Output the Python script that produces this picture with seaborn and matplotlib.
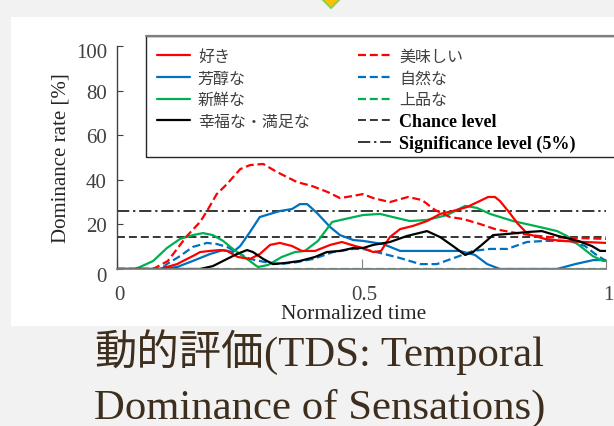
import matplotlib
matplotlib.use("Agg")
import matplotlib.pyplot as plt
import seaborn as sns
from matplotlib.lines import Line2D
from matplotlib.patches import Rectangle, Polygon
from matplotlib.font_manager import FontProperties
from matplotlib.transforms import ScaledTranslation

# ---------------- data ----------------
suki_x = [0, 0.078, 0.088, 0.102, 0.123, 0.135, 0.155, 0.170, 0.190, 0.211, 0.225, 0.247, 0.272,
          0.292, 0.313, 0.333, 0.358, 0.378, 0.405, 0.436, 0.460, 0.487, 0.503, 0.524, 0.540,
          0.558, 0.579, 0.605, 0.634, 0.661, 0.687, 0.716, 0.742, 0.759, 0.773, 0.783, 0.800,
          0.820, 0.840, 0.875, 0.910, 0.957, 1.0]
suki_y = [0, 0, 0, 0.9, 2.2, 3.6, 5.8, 7.6, 8.1, 8.5, 8.1, 5.4, 4.5, 6.7, 10.8, 11.7, 10.3, 8.1,
          8.1, 10.8, 12.1, 10.3, 9.4, 7.6, 8.1, 14.3, 17.9, 19.3, 21.5, 24.7, 26.0, 27.8, 30.5,
          32.3, 32.3, 30.5, 26.0, 20.2, 15.7, 13.5, 12.6, 12.1, 11.7]

oishii_x = [0, 0.074, 0.104, 0.143, 0.170, 0.184, 0.204, 0.225, 0.252, 0.272, 0.299, 0.327,
            0.368, 0.399, 0.431, 0.456, 0.481, 0.503, 0.524, 0.558, 0.595, 0.624, 0.650, 0.681,
            0.708, 0.742, 0.773, 0.804, 0.845, 0.885, 0.937, 1.0]
oishii_y = [0, 0, 3.6, 14.8, 21.1, 26.0, 33.6, 38.1, 44.8, 46.6, 47.1, 43.5, 39.0, 37.2, 34.5,
            31.8, 32.7, 33.6, 31.8, 30.0, 32.3, 30.9, 26.5, 23.3, 22.4, 20.2, 17.9, 16.6, 15.2,
            14.3, 13.9, 13.5]

hojun_x = [0, 0.088, 0.123, 0.155, 0.190, 0.217, 0.237, 0.252, 0.272, 0.292, 0.313, 0.333,
           0.358, 0.374, 0.389, 0.409, 0.436, 0.456, 0.483, 0.503, 0.544, 0.579, 0.640, 0.701,
           0.732, 0.757, 0.783, 0.900, 0.937, 0.974, 1.0]
hojun_y = [0, 0, 0.9, 3.6, 6.7, 8.5, 7.6, 10.3, 16.6, 23.3, 24.7, 26.0, 26.9, 29.1, 29.1, 25.1,
           18.8, 15.2, 13.0, 12.6, 11.2, 8.1, 8.1, 8.1, 6.3, 2.2, 0, 0, 2.2, 4.0, 4.0]

shizen_x = [0, 0.090, 0.102, 0.129, 0.155, 0.184, 0.204, 0.225, 0.252, 0.272, 0.303, 0.333,
            0.368, 0.401, 0.442, 0.483, 0.503, 0.538, 0.579, 0.620, 0.654, 0.695, 0.728, 0.763,
            0.798, 0.838, 0.875, 0.926, 0.957, 0.978, 1.0]
shizen_y = [0, 0, 2.2, 5.8, 9.9, 11.7, 11.2, 9.9, 6.7, 4.5, 3.1, 2.2, 3.1, 4.5, 7.6, 9.0, 9.0,
            7.2, 4.9, 2.2, 2.2, 5.4, 8.1, 9.0, 9.0, 12.1, 12.6, 12.6, 10.3, 6.7, 3.6]

shinsen_x = [0, 0.037, 0.047, 0.074, 0.102, 0.129, 0.155, 0.176, 0.196, 0.217, 0.237, 0.266,
             0.288, 0.309, 0.337, 0.364, 0.384, 0.411, 0.440, 0.466, 0.503, 0.538, 0.564, 0.599,
             0.634, 0.675, 0.712, 0.736, 0.763, 0.810, 0.865, 0.900, 0.920, 0.947, 0.973, 0.994, 1.0]
shinsen_y = [0, 0, 0.9, 3.6, 9.4, 13.5, 15.2, 16.1, 15.2, 12.6, 9.0, 4.5, 0.9, 1.8, 5.4, 7.6,
             8.1, 12.6, 21.1, 22.4, 24.2, 24.7, 23.3, 21.5, 22.0, 24.2, 28.3, 27.4, 24.7, 21.5,
             18.8, 17.0, 14.8, 10.3, 5.8, 3.6, 3.6]

johin_x = [0, 1.0]
johin_y = [0, 0]

kofuku_x = [0, 0.170, 0.196, 0.225, 0.245, 0.266, 0.278, 0.299, 0.319, 0.344, 0.374, 0.405,
            0.429, 0.456, 0.483, 0.503, 0.524, 0.558, 0.593, 0.634, 0.661, 0.687, 0.712, 0.728,
            0.748, 0.769, 0.798, 0.840, 0.869, 0.902, 0.943, 0.971, 0.988, 1.0]
kofuku_y = [0, 0, 1.3, 4.5, 6.7, 8.5, 7.6, 4.5, 2.2, 2.7, 3.6, 5.4, 7.6, 8.1, 9.4, 9.4, 10.8,
            12.1, 14.8, 17.0, 14.3, 10.3, 6.3, 7.6, 11.2, 15.2, 15.7, 16.6, 17.0, 14.8, 12.6,
            10.3, 8.1, 8.1]

chance_level = 14.3
significance_level = 26.1

x_ticks = [0, 0.5, 1]
x_tick_labels = ["0", "0.5", "1"]
y_ticks = [0, 20, 40, 60, 80, 100]
y_tick_labels = ["0", "20", "40", "60", "80", "100"]

# ---------------- figure ----------------
W, H = 614, 427
def fx(x):
    return x / W
def fy(y):
    return 1 - y / H

sns.set_theme(style="ticks")
plt.rcParams["font.family"] = ["Liberation Serif", "Noto Sans CJK JP", "DejaVu Sans"]

fig = plt.figure(figsize=(W / 100, H / 100), dpi=100, facecolor="#f2f2f2")
fig.patches.append(Rectangle((fx(11), fy(327)), 1.0, fy(18) - fy(327), transform=fig.transFigure,
                             facecolor="white", edgecolor="none", zorder=-5))
fig.patches.append(Polygon([(fx(322), fy(0)), (fx(331), fy(-9)), (fx(340), fy(0)), (fx(331), fy(9))],
                           closed=True, transform=fig.transFigure, facecolor="#ffc000",
                           edgecolor="#92d050", lw=1.5, zorder=2))

ax = fig.add_axes([fx(117), fy(270), (606 - 117) / W, (270 - 47) / H])
ax.set_facecolor("none")

RED, BLUE, GREEN, BLACK = "#ff0000", "#0070c0", "#00b050", "#000000"
DASH = (0, (3.6, 1.7))
series = [
    ("上品な", johin_x, johin_y, GREEN, DASH),
    ("自然な", shizen_x, shizen_y, BLUE, DASH),
    ("芳醇な", hojun_x, hojun_y, BLUE, "-"),
    ("新鮮な", shinsen_x, shinsen_y, GREEN, "-"),
    ("好き", suki_x, suki_y, RED, "-"),
    ("美味しい", oishii_x, oishii_y, RED, DASH),
    ("幸福な・満足な", kofuku_x, kofuku_y, BLACK, "-"),
]
handles = {}
for name, xs, ys, col, ls in series:
    sns.lineplot(x=xs, y=ys, ax=ax, color=col, linestyle=ls, linewidth=1.6,
                 estimator=None, sort=False, errorbar=None)
    handles[name] = ax.lines[-1]
handles["上品な"].set_zorder(1.5)

handles["Chance level"] = ax.axhline(chance_level, color="black", lw=1.1,
                                     linestyle=(0, (5.2, 2.6)), zorder=1.8)
handles["Significance level (5%)"] = ax.axhline(significance_level, color="black", lw=1.1,
                                                linestyle=(0, (8, 2.5, 1.5, 2.5)), zorder=1.8)

ax.set_xlim(0, 1)
ax.set_ylim(0, 100)
sns.despine(ax=ax)
ax.spines["left"].set_color("#404040")
ax.spines["left"].set_linewidth(1.0)
ax.spines["bottom"].set_color("#808080")
ax.spines["bottom"].set_linewidth(1.3)
ax.spines["bottom"].set_zorder(3)

ax.set_xticks(x_ticks, x_tick_labels)
ax.set_yticks(y_ticks, y_tick_labels)
ax.tick_params(axis="y", direction="in", length=4.3, width=0.8, color="#404040", pad=7.2,
               labelsize=15, labelcolor="#404040", left=True)
ax.tick_params(axis="x", direction="in", length=7.5, width=0.8, color="#808080", pad=11.5,
               labelsize=15, labelcolor="#404040", bottom=True)
for lab in ax.get_xticklabels():
    lab.set_transform(lab.get_transform() + ScaledTranslation(0.025, 0, fig.dpi_scale_trans))
ylabs = ax.get_yticklabels()
for lab in (ylabs[0], ylabs[-1]):
    lab.set_transform(lab.get_transform() + ScaledTranslation(0, -0.045, fig.dpi_scale_trans))
ax.set_ylabel("Dominance rate [%]", fontsize=15, color="#262626", labelpad=4)
ax.set_xlabel("Normalized time", fontsize=15.5, color="#262626", labelpad=0, x=0.483)

# ---------------- legend ----------------
fig.patches.append(Rectangle((fx(146), fy(158)), 1.0, fy(37) - fy(158), transform=fig.transFigure,
                             facecolor="none", edgecolor="#262626", lw=1.0, zorder=3))
fig.lines.append(Line2D([fx(146), 1.0], [fy(37), fy(37)], transform=fig.transFigure,
                        color="#808080", lw=1.6, zorder=4))
blank = Line2D([], [], color="none")
order = ["好き", "芳醇な", "新鮮な", "幸福な・満足な", None,
         "美味しい", "自然な", "上品な", "Chance level", "Significance level (5%)"]
hs = [handles[k] if k else blank for k in order]
labels = [k if k else "" for k in order]
cjk = FontProperties(family=["Noto Sans CJK JP"], size=11.5)
leg = ax.legend(hs, labels, ncol=2, loc="upper left", bbox_to_anchor=(fx(157), fy(49)),
                bbox_transform=fig.transFigure, frameon=False, borderpad=0, borderaxespad=0,
                handlelength=2.06, handletextpad=0.5, columnspacing=3.05, labelspacing=0.29,
                prop=cjk)
for t in leg.get_texts():
    t.set_color("#404040")
for t in leg.get_texts()[-2:]:
    t.set_fontproperties(FontProperties(family=["Liberation Serif"], weight="bold", size=13))
    t.set_color("black")

# ---------------- caption ----------------
CAP = "#3d2e1e"
t1 = fig.text(fx(94), fy(366), "動的評価", fontfamily=["Noto Sans CJK JP"], fontsize=30.5,
              color=CAP, ha="left", va="baseline")
fig.canvas.draw()
bb = t1.get_window_extent()
fig.text(bb.x1 / W, fy(366), "(TDS: Temporal", fontfamily=["Liberation Serif"], fontsize=30.8,
         color=CAP, ha="left", va="baseline")
fig.text(fx(94), fy(419), "Dominance of Sensations)", fontfamily=["Liberation Serif"],
         fontsize=30.8, color=CAP, ha="left", va="baseline")

fig.savefig("out.png", dpi=100, facecolor=fig.get_facecolor())
